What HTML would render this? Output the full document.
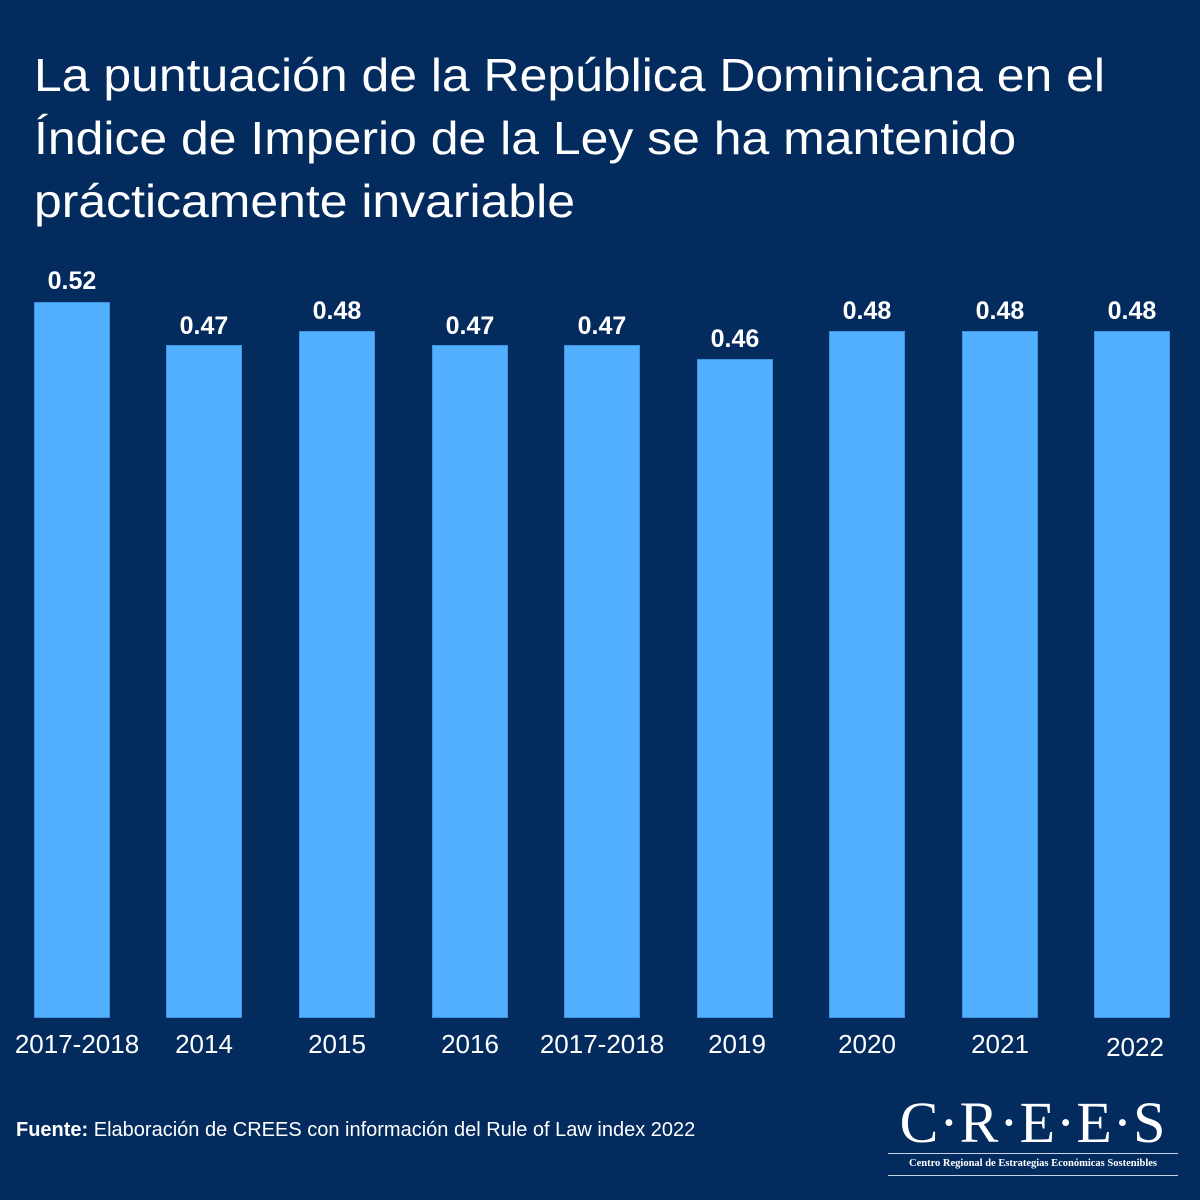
<!DOCTYPE html>
<html><head><meta charset="utf-8"><style>
body{margin:0;width:1200px;height:1200px;background:#032b5e;position:relative;overflow:hidden;font-family:"Liberation Sans",sans-serif;color:#fff}
.t{position:absolute;left:34px;top:44px;font-size:46px;line-height:63px;transform:scaleX(1.085);transform-origin:0 0;white-space:nowrap}
.b{position:absolute;background:#52afff;border:1px solid #3d93e0;box-sizing:border-box;bottom:182px;width:76px}
.v{position:absolute;font-weight:bold;font-size:25px;width:120px;text-align:center}
.x{position:absolute;font-size:26px;width:160px;text-align:center;top:1029px}
</style></head><body>
<div class="t">La puntuación de la República Dominicana en el<br>Índice de Imperio de la Ley se ha mantenido<br>prácticamente invariable</div>
<div class="b" style="left:34px;top:302px"></div><div class="v" style="left:12px;top:267px">0.52</div><div class="x" style="left:-3px">2017-2018</div>
<div class="b" style="left:166px;top:345px"></div><div class="v" style="left:144px;top:312px">0.47</div><div class="x" style="left:124px">2014</div>
<div class="b" style="left:299px;top:331px"></div><div class="v" style="left:277px;top:297px">0.48</div><div class="x" style="left:257px">2015</div>
<div class="b" style="left:432px;top:345px"></div><div class="v" style="left:410px;top:312px">0.47</div><div class="x" style="left:390px">2016</div>
<div class="b" style="left:564px;top:345px"></div><div class="v" style="left:542px;top:312px">0.47</div><div class="x" style="left:522px">2017-2018</div>
<div class="b" style="left:697px;top:359px"></div><div class="v" style="left:675px;top:325px">0.46</div><div class="x" style="left:657px">2019</div>
<div class="b" style="left:829px;top:331px"></div><div class="v" style="left:807px;top:297px">0.48</div><div class="x" style="left:787px">2020</div>
<div class="b" style="left:962px;top:331px"></div><div class="v" style="left:940px;top:297px">0.48</div><div class="x" style="left:920px">2021</div>
<div class="b" style="left:1094px;top:331px"></div><div class="v" style="left:1072px;top:297px">0.48</div><div class="x" style="left:1055px;top:1032px">2022</div>
<div style="position:absolute;left:16px;top:1119px;font-size:20px"><b>Fuente:</b> Elaboración de CREES con información del Rule of Law index 2022</div>
<div style="position:absolute;left:888px;top:1092px;width:290px;text-align:center;font-family:'Liberation Serif',serif;font-size:58px;line-height:62px;letter-spacing:1px">C·R·E·E·S</div>
<div style="position:absolute;left:888px;top:1153px;width:290px;height:1px;background:#c8d4e6"></div>
<div style="position:absolute;left:888px;top:1158px;width:290px;text-align:center;font-family:'Liberation Serif',serif;font-weight:bold;font-size:10.5px">Centro Regional de Estrategias Económicas Sostenibles</div>
<div style="position:absolute;left:888px;top:1175px;width:290px;height:1px;background:#c8d4e6"></div>
</body></html>
